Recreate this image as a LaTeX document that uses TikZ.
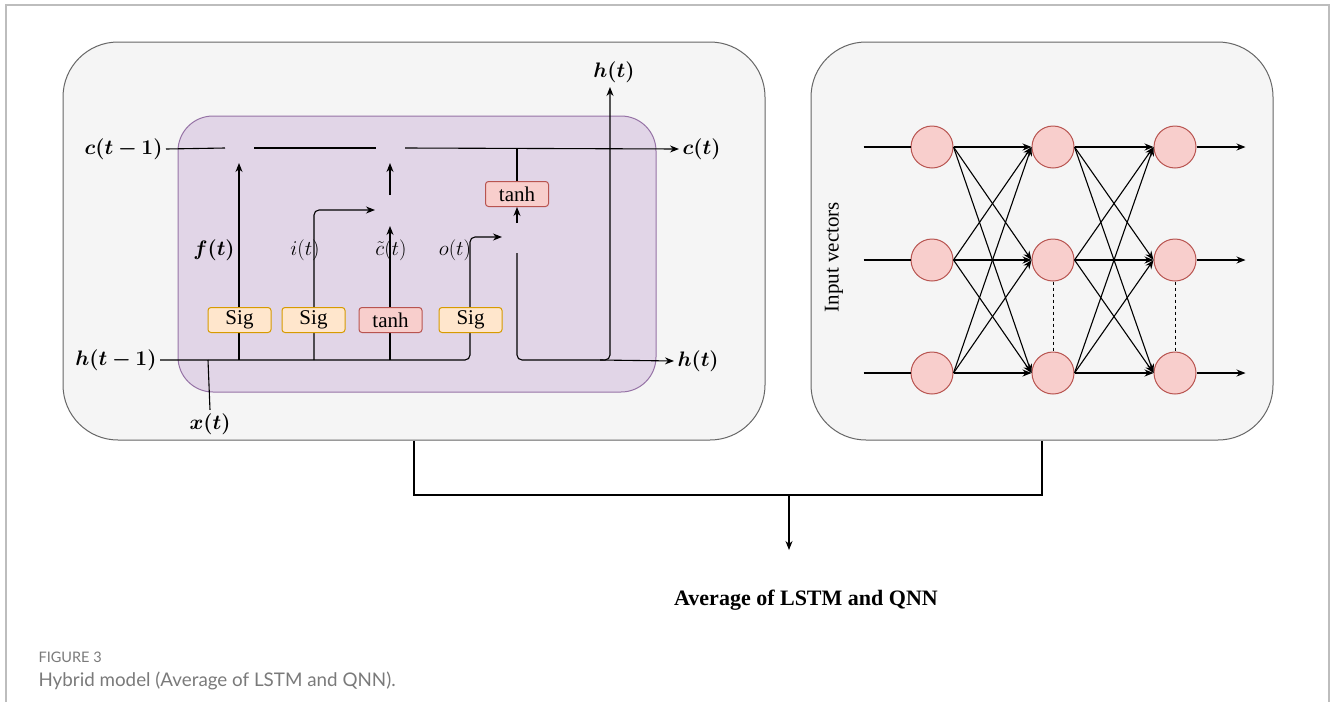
\RequirePackage{fix-cm}
\documentclass[tikz,border=0pt]{standalone}
\usepackage{bm}
\usepackage{fontspec}
\setmainfont{Liberation Serif}
\newfontfamily\capfont{Lato}
\usetikzlibrary{arrows.meta,positioning}

\definecolor{panelfill}{HTML}{F5F5F5}
\definecolor{paneldraw}{HTML}{666666}
\definecolor{cellfill}{HTML}{E1D5E7}
\definecolor{celldraw}{HTML}{9673A6}
\definecolor{sigfill}{HTML}{FFE6CC}
\definecolor{sigdraw}{HTML}{D79B00}
\definecolor{redfill}{HTML}{F8CECC}
\definecolor{reddraw}{HTML}{B85450}
\definecolor{framegray}{HTML}{BDBDBD}
\definecolor{capgray}{HTML}{7A7A7A}

\tikzset{
  panel/.style={draw=paneldraw, fill=panelfill, rounded corners=55, line width=1pt},
  gate/.style={rounded corners=3, minimum width=63, minimum height=25, inner sep=0, line width=1pt},
  sig/.style={gate, draw=sigdraw, fill=sigfill},
  act/.style={gate, draw=reddraw, fill=redfill},
  neuron/.style={circle, draw=reddraw, fill=redfill, minimum size=42, inner sep=0, line width=1pt},
  lbl/.style={inner sep=3}
}

\begin{document}
\begin{tikzpicture}[x=1pt, y=-1pt, >={Stealth[length=9pt,width=7pt]}, line width=1.1pt,
    font=\fontsize{21}{25}\selectfont]
\useasboundingbox (0,0) rectangle (1332,702);
\draw[framegray, line width=1.5pt] (6,702) -- (6,5) -- (1329,5) -- (1329,702);

% the two panels
\node[panel, minimum width=702, minimum height=398] (lstm) at (414,241) {};
\node[panel, minimum width=462, minimum height=398] (qnn) at (1042,241) {};

% LSTM cell
\node[draw=celldraw, fill=cellfill, rounded corners=35, line width=1pt,
      minimum width=478, minimum height=276] (cell) at (417,254) {};

\node[lbl, anchor=east] (cprev) at (166,149) {$\bm{c(t-1)}$};
\node[lbl, anchor=west] (cnext) at (679,149) {$\bm{c(t)}$};
\node[lbl, anchor=east] (hprev) at (160,360) {$\bm{h(t-1)}$};
\node[lbl, anchor=west] (hnext) at (674,361) {$\bm{h(t)}$};
\node[lbl, anchor=south] (hup) at (614,86) {$\bm{h(t)}$};
\node[lbl] (xin) at (210,424) {$\bm{x(t)}$};

% cell state
\draw (cprev.east) -- (225,148);
\draw (254,148) -- (376,148);
\draw[->] (405,148) -- (cnext.west);

% gates
\draw[->] (239,360) -- (239,163);
\draw[->, rounded corners=5] (314,360) -- (314,210) -- (375,210);
\draw[->] (390,360) -- (390,226);
\draw[->] (390,195) -- (390,163);
\draw[->, rounded corners=5] (hprev.east) -- (470,360) -- (470,237) -- (502,237);
\draw (xin.north) -- (208,360);

\node[act] (th) at (517,194) {tanh};
\draw[->] (517,223) -- (th.south);
\draw (th.north) -- (517,148);
\draw[->, rounded corners=5] (517,253) -- (517,360) -- (610,360) -- (610,87);
\draw[->] (600,360) -- (hnext.west);

\node[sig] (fg) at (239.5,320) {Sig};
\node[sig] (ig) at (313.5,320) {Sig};
\node[act] (cg) at (390.5,320) {tanh};
\node[sig] (og) at (470.5,320) {Sig};

\node at (214,250) {$\bm{f(t)}$};
\node at (305,250) {$i(t)$};
\node at (391,250) {$\tilde{c}(t)$};
\node at (455,250) {$o(t)$};

% quantum network
\foreach \i/\x in {1/932,2/1053,3/1175}
  \foreach \j/\y in {1/147,2/260,3/373}
    \node[neuron] (n\i\j) at (\x,\y) {};
\foreach \j in {1,2,3}
{
    \draw ([xshift=-47pt]n1\j.west) -- (n1\j.west);
    \draw[->] (n3\j.east) -- ++(49,0);
}
\foreach \a in {1,2,3}
  \foreach \b in {1,2,3}
  {
    \draw[->] (n1\a.east) -- (n2\b.west);
    \draw[->] (n2\a.east) -- (n3\b.west);
  }
\draw[dashed, line width=.8pt] (n22.south) -- (n23.north);
\draw[dashed, line width=.8pt] (n32.south) -- (n33.north);
\node[rotate=90] (inp) at (834,257) {Input vectors};

% averaging
\node[font=\fontsize{22}{26}\selectfont\bfseries] (avg) at (806,600) {Average of LSTM and QNN};
\coordinate (join) at (789,495);
\coordinate (avgin) at (789,550);
\draw (lstm.south) |- (join) -| (qnn.south);
\draw[->] (join) -- (avgin);

\node[anchor=west, inner sep=0, text=capgray, font=\capfont\fontsize{14.5}{17}\selectfont] (fig) at (38,657) {FIGURE 3};
\node[anchor=west, inner sep=0, text=capgray, font=\capfont\fontsize{18.8}{22}\selectfont] (cap) at (38,681) {Hybrid model (Average of LSTM and QNN).};
\end{tikzpicture}
\end{document}
